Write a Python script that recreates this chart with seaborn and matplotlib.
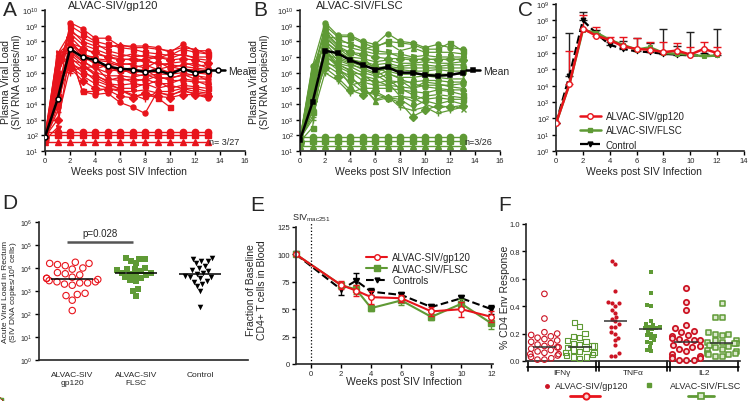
import numpy as np
import pandas as pd
import seaborn as sns
import matplotlib.pyplot as plt
import matplotlib.ticker as mticker
from matplotlib.lines import Line2D
from matplotlib.transforms import Bbox, TransformedBbox

sns.set_style('ticks')
plt.rcParams['font.family'] = ['Liberation Sans', 'DejaVu Sans']
plt.rcParams['mathtext.default'] = 'regular'
plt.rcParams['axes.linewidth'] = 1.2

RED = '#e8141c'
GREEN = '#5f9a35'
FRED = '#cc1424'

# ---------------- data (log10 copies/ml unless noted) ----------------
weeks_ab = list(range(14))
gp120_animals = [
    [1.9, 4.0, 9.2, 8.8, 8.2, 8.2, 7.7, 7.7, 7.7, 7.6, 7.3, 7.8, 7.4, 7.4],
    [1.8, 5.5, 9.0, 8.5, 8.0, 7.8, 7.6, 7.5, 7.3, 7.2, 7.1, 7.5, 7.3, 7.2],
    [2.0, 6.0, 8.8, 8.0, 7.7, 7.6, 7.8, 7.6, 7.6, 7.5, 7.4, 7.6, 7.5, 7.2],
    [1.7, 7.2, 8.5, 7.8, 7.5, 7.2, 7.0, 7.2, 7.0, 6.9, 7.2, 7.1, 7.0, 7.0],
    [1.9, 5.8, 8.3, 7.5, 7.3, 7.0, 6.8, 6.9, 6.8, 7.0, 6.8, 6.9, 6.8, 6.6],
    [1.8, 3.5, 8.0, 7.2, 6.9, 6.8, 6.5, 6.6, 6.9, 6.5, 6.6, 6.7, 6.4, 6.5],
    [2.0, 6.5, 7.8, 7.3, 6.5, 6.4, 6.6, 6.5, 6.3, 6.7, 6.3, 6.5, 6.6, 6.3],
    [1.8, 4.5, 7.6, 7.0, 6.6, 6.3, 6.2, 6.3, 6.5, 6.2, 6.4, 6.2, 6.2, 6.1],
    [1.9, 7.3, 7.4, 6.8, 6.2, 6.5, 6.0, 6.2, 6.0, 6.3, 6.0, 6.3, 6.0, 5.9],
    [1.7, 2.5, 7.3, 6.7, 6.3, 6.0, 6.3, 5.9, 5.8, 5.9, 5.9, 6.0, 5.8, 5.7],
    [2.0, 6.2, 7.2, 6.5, 6.0, 5.8, 5.8, 5.7, 5.9, 5.6, 5.7, 5.8, 5.9, 5.5],
    [1.8, 5.0, 7.0, 6.3, 6.4, 5.6, 5.5, 5.6, 5.5, 5.8, 5.5, 5.5, 5.4, 5.4],
    [1.9, 4.8, 6.8, 6.6, 5.8, 5.5, 5.7, 5.4, 5.6, 5.3, 5.3, 5.6, 5.5, 5.2],
    [1.8, 6.8, 6.7, 6.0, 5.7, 5.3, 5.2, 5.3, 5.2, 5.5, 5.0, 5.2, 5.1, 5.0],
    [1.7, 4.2, 6.6, 6.2, 5.5, 5.2, 5.0, 5.0, 5.3, 5.0, 5.2, 5.0, 5.0, 4.8],
    [2.0, 5.2, 6.4, 5.8, 5.3, 5.0, 4.8, 4.8, 4.9, 4.7, 4.6, 4.8, 4.7, 4.6],
    [1.9, 3.0, 6.3, 5.5, 5.0, 4.9, 4.5, 4.4, 4.7, 4.5, 4.4, 4.6, 4.6, 4.5],
    [1.8, 6.0, 6.0, 6.4, 5.9, 5.4, 4.9, 4.6, 4.3, 4.8, 4.8, 5.0, 4.8, 4.7],
    [1.9, 5.5, 7.2, 4.8, 4.6, 4.7, 4.1, 3.8, 3.4, 4.8, 4.5, 4.9, 4.6, 4.4],
    [1.8, 7.0, 7.3, 4.8, 4.8, 5.0, 4.9, 4.5, 4.6, 4.4, 3.8, np.nan, np.nan, np.nan],
    [2.0, 7.2, 7.9, 7.6, 7.2, 7.0, 6.9, 6.8, 6.7, 6.6, 6.5, 6.4, 6.3, 6.2],
    [1.9, 6.4, 8.6, 8.2, 7.9, 7.4, 7.2, 7.0, 7.1, 7.0, 6.9, 7.2, 6.9, 6.8],
    [1.8, 5.9, 7.9, 7.0, 6.8, 6.7, 6.4, 6.0, 6.1, 6.0, 6.1, 6.2, 6.1, 6.0],
    [1.7, 3.8, 8.1, 7.1, 7.0, 6.2, 6.1, 6.1, 6.2, 5.7, 5.6, 5.9, 5.6, 5.6],
]
gp120_uninfected = [2.2, 2.0, 1.55]
gp120_mean = [1.9, 4.3, 7.5, 7.0, 6.8, 6.4, 6.25, 6.2, 6.05, 6.15, 5.9, 6.25, 6.0, 6.1]

flsc_animals = [
    [1.7, 6.4, 9.2, 8.4, 8.4, 8.0, 7.8, 8.5, 8.0, 7.9, 7.6, 7.8, 7.6, 7.5],
    [1.6, 5.5, 9.0, 8.3, 8.3, 7.9, 7.6, 8.0, 7.9, 7.8, 7.5, 7.5, 7.9, 7.4],
    [1.8, 6.0, 8.8, 8.0, 7.9, 7.5, 7.7, 7.9, 7.4, 7.6, 7.3, 7.3, 7.3, 7.2],
    [1.7, 4.5, 8.6, 7.8, 7.6, 7.4, 7.2, 7.2, 7.2, 7.0, 7.1, 7.0, 7.0, 7.0],
    [1.6, 5.0, 8.4, 7.5, 7.3, 7.2, 7.0, 6.9, 6.9, 6.8, 6.9, 6.8, 6.9, 6.8],
    [1.8, 3.0, 8.2, 7.6, 7.0, 6.9, 6.7, 6.8, 6.6, 6.6, 6.7, 6.6, 6.6, 6.7],
    [1.7, 5.8, 8.0, 7.3, 6.8, 6.7, 6.5, 6.6, 6.4, 6.5, 6.5, 6.4, 6.5, 6.5],
    [1.6, 2.5, 7.9, 7.0, 6.7, 6.4, 6.3, 6.4, 6.3, 6.3, 6.3, 6.3, 6.3, 6.3],
    [1.8, 6.2, 7.7, 6.8, 6.5, 6.3, 6.0, 6.3, 6.2, 6.1, 6.1, 6.2, 6.1, 6.1],
    [1.7, 4.8, 7.5, 6.6, 6.4, 6.0, 5.8, 6.1, 5.9, 5.9, 5.9, 5.9, 5.9, 5.9],
    [1.6, 3.8, 7.3, 6.5, 6.2, 5.8, 5.6, 5.9, 5.7, 5.7, 5.8, 5.7, 5.6, 5.6],
    [1.8, 5.2, 7.1, 6.4, 6.0, 5.9, 5.3, 5.5, 5.4, 5.4, 5.5, 5.5, 5.4, 5.4],
    [1.7, 4.0, 7.0, 6.6, 6.1, 5.5, 5.5, 5.2, 5.1, 5.0, 5.2, 5.2, 5.2, 5.3],
    [1.6, 3.5, 6.8, 6.2, 5.8, 5.0, 5.0, 5.0, 4.9, 4.8, 4.7, 4.9, 4.8, 4.6],
    [1.8, 6.5, 7.6, 6.3, 5.6, 5.2, 4.2, 4.4, 4.5, 4.2, 4.5, 4.6, 4.5, 4.4],
    [1.7, 5.6, 6.5, 6.0, 5.4, 4.8, 4.6, 4.4, 4.3, 3.8, 4.2, 4.0, 4.2, 4.0],
    [1.6, 4.2, 6.3, 5.7, 4.9, 4.6, 4.8, 4.4, 4.1, 3.2, 3.6, 3.9, 3.8, 3.9],
    [1.8, 3.2, 6.0, 5.5, 4.7, 5.0, 4.3, 4.5, 3.8, 3.6, 3.8, 3.4, 3.6, 3.8],
    [1.7, 5.9, 8.0, 7.4, 6.9, 6.6, 6.4, 6.0, 5.6, 5.3, 5.1, 5.0, 4.9, 4.9],
    [1.6, 6.1, 8.5, 7.7, 7.3, 7.0, 6.2, 5.6, 5.0, 4.6, 4.3, 4.4, 4.3, 4.3],
    [1.8, 4.4, 7.2, 6.9, 6.6, 6.2, 5.9, 5.4, 4.5, 4.4, 4.0, 3.7, 3.9, 3.7],
    [1.7, 5.3, 8.3, 8.2, 7.8, 7.6, 7.4, 7.3, 7.0, 6.9, 6.8, 6.9, 6.8, 6.9],
    [1.6, 3.6, 6.6, 6.4, 5.2, 5.4, 5.2, 5.2, 5.5, 5.0, 5.4, 5.3, 5.1, 5.0],
]
flsc_uninfected = [1.9, 1.65, 1.35]
flsc_mean = [1.7, 4.1, 7.4, 7.25, 6.8, 6.5, 6.2, 6.35, 6.0, 6.0, 5.85, 5.8, 5.85, 6.0]

# panel C: group means with upper SD (log10)
weeks_c = list(range(13))
c_gp120 = [1.7, 4.1, 7.5, 7.05, 6.8, 6.4, 6.25, 6.2, 6.05, 6.15, 5.9, 6.25, 6.0]
c_gp120_up = [1.7, 6.1, 8.3, 7.6, 7.0, 7.0, 6.9, 6.7, 6.7, 6.6, 6.35, 6.7, 6.35]
c_flsc = [1.7, 4.1, 7.4, 7.25, 6.8, 6.5, 6.2, 6.35, 6.0, 5.95, 5.9, 5.8, 5.85]
c_ctrl = [1.7, 4.6, 8.0, 7.2, 6.5, 6.25, 6.1, 6.05, 5.95, 5.9, 5.85, 5.85, 5.85]
c_ctrl_up = [1.7, 7.2, 8.5, 7.4, 6.7, 6.75, 6.9, 6.6, 7.5, 6.4, 7.3, 6.0, 7.5]

# panel D: rectal DNA (log10 copies / 10^6 cells)
d_groups = ['ALVAC-SIV\ngp120', 'ALVAC-SIV\nFLSC', 'Control']
d_gp120 = [4.25, 4.2, 4.2, 4.15, 4.1, 4.0, 3.95, 3.8, 3.75, 3.7, 3.6, 3.55, 3.55, 3.5,
           3.45, 3.4, 3.4, 3.35, 3.35, 3.3, 3.25, 2.9, 2.85, 2.8, 2.6, 2.15]
d_flsc = [4.45, 4.4, 4.4, 4.3, 4.2, 4.0, 3.95, 3.95, 3.9, 3.85, 3.8, 3.8, 3.75, 3.7,
          3.7, 3.6, 3.55, 3.5, 3.45, 3.1, 3.0, 2.8]
d_ctrl = [4.45, 4.4, 4.3, 4.3, 4.2, 4.1, 4.0, 3.9, 3.85, 3.8, 3.75, 3.65, 3.6, 3.6,
          3.55, 3.45, 3.4, 3.3, 3.2, 3.0, 2.3]

# panel E: CD4 fraction of baseline
e_weeks = [-1, 2, 3, 4, 6, 8, 10, 12]
e_gp120 = [100, 72, 67, 61, 60, 48, 50, 43]
e_gp120_err = [0, 4, 5, 6, 3, 4, 7, 5]
e_flsc = [100, 72, 68, 51, 58, 43, 55, 37]
e_flsc_err = [0, 3, 4, 3, 4, 3, 4, 5]
e_ctrl = [100, 68, 76, 66, 63, 52, 60, 50]
e_ctrl_err = [0, 5, 7, 3, 3, 3, 3, 4]

# panel F: % CD4 Env response
f_cats = ['IFNγ', 'TNFα', 'IL2']
f_ifn_gp120 = [0.49, 0.31, 0.21, 0.20, 0.19, 0.18, 0.17, 0.16, 0.15, 0.14, 0.13, 0.12, 0.11,
               0.10, 0.10, 0.09, 0.08, 0.07, 0.06, 0.05, 0.05, 0.04, 0.03, 0.02, 0.01, 0.01]
f_ifn_flsc = [0.28, 0.25, 0.20, 0.18, 0.17, 0.15, 0.14, 0.13, 0.12, 0.11, 0.11, 0.10,
              0.09, 0.08, 0.07, 0.06, 0.06, 0.05, 0.04, 0.03, 0.03, 0.02]
f_tnf_gp120 = [0.73, 0.71, 0.51, 0.43, 0.42, 0.42, 0.40, 0.37, 0.35, 0.32, 0.31, 0.29,
               0.27, 0.25, 0.25, 0.21, 0.20, 0.17, 0.15, 0.12, 0.06, 0.04, 0.04]
f_tnf_flsc = [0.65, 0.50, 0.41, 0.40, 0.29, 0.27, 0.26, 0.25, 0.25, 0.24, 0.24, 0.23,
              0.22, 0.20, 0.19, 0.18, 0.17, 0.15, 0.14, 0.13, 0.10, 0.08, 0.07]
f_il2_gp120 = [0.53, 0.43, 0.37, 0.26, 0.24, 0.22, 0.21, 0.19, 0.18, 0.17, 0.16, 0.15, 0.15,
               0.14, 0.12, 0.11, 0.10, 0.09, 0.07, 0.05, 0.04, 0.03, 0.02, 0.02, 0.01, 0.01, 0.005]
f_il2_flsc = [0.42, 0.32, 0.32, 0.21, 0.20, 0.20, 0.19, 0.15, 0.15, 0.14, 0.14, 0.13, 0.13,
              0.12, 0.11, 0.10, 0.09, 0.08, 0.07, 0.06, 0.06, 0.05, 0.05, 0.04, 0.04]

TICK = 5.5
LAB = 7.5

fig = plt.figure(figsize=(7.5, 4.02), dpi=100)


def px_axes(x0, y0, x1, y1):
    return fig.add_axes([x0 / 750, 1 - y1 / 402, (x1 - x0) / 750, (y1 - y0) / 402])


def style(ax):
    sns.despine(ax=ax)
    ax.tick_params(direction='out', length=3, width=1, pad=1.5, labelsize=TICK, color='black')


def log_y(ax, lo, hi):
    ax.set_yscale('log')
    ax.set_ylim(10 ** lo, 10 ** hi)
    ax.set_yticks([10 ** i for i in range(lo, hi + 1)])
    ax.yaxis.set_minor_locator(mticker.NullLocator())


axA = px_axes(45, 11, 245, 152)
axB = px_axes(300, 11, 500, 152)
axC = px_axes(556, 5, 744, 152)
axD = px_axes(39, 223, 248, 361)
axE = px_axes(296, 228, 493, 365)
axF = px_axes(526, 225, 740, 362)

# ---------------- A and B ----------------
mk_cycle = ['o', 's', '^', 'v', 'D', '+', 'o', 's', 'x', 'v', '^', 'o']
for ax, animals, unin, mean, col, title, mean_mk, ntxt, tx in [
        (axA, gp120_animals, gp120_uninfected, gp120_mean, RED, 'ALVAC-SIV/gp120', 'o', 'n= 3/27', 0.34),
        (axB, flsc_animals, flsc_uninfected, flsc_mean, GREEN, 'ALVAC-SIV/FLSC', 's', 'n=3/26', 0.30)]:
    for i, row in enumerate(animals):
        m = mk_cycle[i % len(mk_cycle)]
        sns.lineplot(x=weeks_ab, y=10 ** np.array(row), color=col, lw=0.9, marker=m, ms=3.6,
                     mec=col, mfc=col, mew=1, ax=ax)
    for lvl, m in zip(unin, ['o', 's', '^']):
        sns.lineplot(x=weeks_ab, y=[10 ** lvl] * len(weeks_ab), color=col, lw=1, marker=m, ms=4.5,
                     mec=col, mfc=col, mew=1, ax=ax)
    sns.lineplot(x=weeks_ab, y=10 ** np.array(mean), color='black', lw=1.8, marker=mean_mk, ms=3.5,
                 mfc='white' if mean_mk == 'o' else 'black', mec='black', mew=1.1, ax=ax, zorder=5)
    h = Line2D([], [], color='black', lw=1.8, marker=mean_mk, ms=3.5,
               mfc='white' if mean_mk == 'o' else 'black', mec='black', mew=1.1)
    ax.legend([h], [''], loc='center left', bbox_to_anchor=(0.83, 0.567), frameon=False,
              handlelength=1.3, handletextpad=0, borderpad=0, borderaxespad=0, fontsize=LAB)
    mt = ax.text(0.915, 0.567, 'Mean', transform=ax.transAxes, va='center', fontsize=LAB)
    if ax is axA:
        mt.set_clip_box(TransformedBbox(Bbox([[0, 0], [250 / 750, 1]]), fig.transFigure))
        mt.set_clip_on(True)
    ax.text(13.15, 10 ** 1.62, ntxt, fontsize=6.5, va='center')
    ax.text(tx, 1.035, title, transform=ax.transAxes, ha='center', va='center', fontsize=8)
    log_y(ax, 1, 10)
    ax.set_xlim(0, 16)
    ax.set_xticks(range(0, 17, 2))
    ax.set_xlabel('Weeks post SIV Infection', fontsize=LAB)
    ax.set_ylabel('Plasma Viral Load\n(SIV RNA copies/ml)', fontsize=LAB, linespacing=1.1)
    style(ax)

axA.xaxis.set_label_coords(0.42, -0.105)
axA.yaxis.set_label_coords(-0.115, 0.5)
axB.xaxis.set_label_coords(0.465, -0.105)
axB.yaxis.set_label_coords(-0.15, 0.5)

# ---------------- C ----------------
gp = 10 ** np.array(c_gp120)
ct = 10 ** np.array(c_ctrl)
axC.errorbar(weeks_c, ct, yerr=[np.zeros(len(ct)), 10 ** np.array(c_ctrl_up) - ct], fmt='none',
             ecolor='#222222', elinewidth=1, capsize=3, capthick=1, zorder=2)
axC.errorbar(weeks_c, gp, yerr=[np.zeros(len(gp)), 10 ** np.array(c_gp120_up) - gp], fmt='none',
             ecolor=RED, elinewidth=1, capsize=3, capthick=1, zorder=3)
sns.lineplot(x=weeks_c, y=ct, color='black', lw=1.6, ls='--', marker='v', ms=3.5, mec='black',
             ax=axC, zorder=4)
sns.lineplot(x=weeks_c, y=10 ** np.array(c_flsc), color=GREEN, lw=1.8, marker='s', ms=3.5,
             mec=GREEN, ax=axC, zorder=5)
sns.lineplot(x=weeks_c, y=gp, color=RED, lw=1.8, marker='o', ms=4, mec=RED, mfc='white',
             mew=1, ax=axC, zorder=6)
log_y(axC, 0, 9)
axC.set_xlim(0, 14)
axC.set_xticks(range(0, 15, 2))
axC.set_xlabel('Weeks post SIV Infection', fontsize=LAB)
axC.xaxis.set_label_coords(0.47, -0.1)
hc = [Line2D([], [], color=RED, lw=1.8, marker='o', ms=4, mfc='white', mec=RED),
      Line2D([], [], color=GREEN, lw=1.8, marker='s', ms=3.5, mec=GREEN),
      Line2D([], [], color='black', lw=1.6, ls='--', marker='v', ms=3.5)]
axC.legend(hc, ['ALVAC-SIV/gp120', 'ALVAC-SIV/FLSC', 'Control'], loc='lower left',
           bbox_to_anchor=(0.1, -0.025), frameon=False, fontsize=7, handlelength=2.2,
           handletextpad=0.5, labelspacing=0.45, borderpad=0)
style(axC)

# ---------------- D ----------------
for vals, col, mk, hollow in [(d_gp120, RED, 'o', True), (d_flsc, GREEN, 's', False),
                              (d_ctrl, 'black', 'v', False)]:
    name = d_groups[[d_gp120, d_flsc, d_ctrl].index(vals)]
    n0 = len(axD.collections)
    sns.swarmplot(x=[name] * len(vals), y=10 ** np.array(vals), order=d_groups, color=col,
                  marker=mk, size=4.6 if hollow else 4, log_scale=True, ax=axD)
    if hollow:
        for coll in axD.collections[n0:]:
            coll.set_facecolor('none')
            coll.set_edgecolor(col)
            coll.set_linewidth(0.8)
    med = np.median(vals)
    pos = d_groups.index(name)
    axD.hlines(10 ** med, pos - 0.33, pos + 0.33, color='black', lw=1.1, zorder=5)
axD.hlines(10 ** 5.13, -0.08, 0.95, color='#555555', lw=1.8)
axD.text(0.44, 10 ** 5.5, 'p=0.028', ha='center', va='center', fontsize=7)
log_y(axD, 0, 6)
axD.set_xlim(-0.52, 2.75)
axD.set_xlabel('')
axD.set_ylabel('')
fig.text(11.5 / 750, 1 - 292 / 402, 'Acute Viral Load in Rectum\n(SIV DNA copies/10$^6$ cells)',
         rotation=90, ha='center', va='center', fontsize=6.0, linespacing=0.9)
style(axD)
axD.tick_params(axis='x', length=0, labelsize=6, pad=8)
axD.tick_params(axis='y', labelsize=5)

# ---------------- E ----------------
for vals, err, col, ls, mk, mfc in [(e_ctrl, e_ctrl_err, 'black', '--', 'v', 'black'),
                                    (e_flsc, e_flsc_err, GREEN, '-', 's', GREEN),
                                    (e_gp120, e_gp120_err, RED, '-', 'o', 'white')]:
    axE.errorbar(e_weeks, vals, yerr=err, fmt='none', ecolor=col, elinewidth=1, capsize=2.5,
                 capthick=1, clip_on=False)
    sns.lineplot(x=e_weeks, y=vals, color=col, lw=1.5, ls=ls, marker=mk, ms=4, mec=col, mfc=mfc,
                 mew=1, ax=axE)
for ln in axE.lines:
    ln.set_clip_on(False)
axE.axvline(0, color='black', ls=':', lw=0.9, ymax=1.03, clip_on=False)
axE.text(0, 1.03, 'SIV$_{mac251}$', transform=axE.get_xaxis_transform(), ha='center',
         va='bottom', fontsize=6.5)
axE.set_xlim(-1, 12.1)
axE.set_ylim(0, 125)
axE.set_xticks(range(0, 13, 2))
axE.set_yticks(range(0, 126, 25))
axE.set_xlabel('Weeks post SIV Infection', fontsize=LAB)
axE.set_ylabel('Fraction of Baseline\nCD4+ T cells in Blood', fontsize=LAB, linespacing=1.1)
axE.xaxis.set_label_coords(0.55, -0.09)
axE.yaxis.set_label_coords(-0.147, 0.55)
he = [Line2D([], [], color=RED, lw=1.5, marker='o', ms=4, mfc='white', mec=RED),
      Line2D([], [], color=GREEN, lw=1.5, marker='s', ms=4, mec=GREEN),
      Line2D([], [], color='black', lw=1.5, ls='--', marker='v', ms=3.5)]
axE.legend(he, ['ALVAC-SIV/gp120', 'ALVAC-SIV/FLSC', 'Controls'], loc='upper left',
           bbox_to_anchor=(0.33, 0.85), frameon=False, fontsize=7, handlelength=2.2,
           handletextpad=0.5, labelspacing=0.15, borderpad=0)
style(axE)

# ---------------- F ----------------
f_order = ['IFNγ gp120', 'IFNγ FLSC', 'TNFα gp120', 'TNFα FLSC', 'IL2 gp120', 'IL2 FLSC']
f_sets = [
    (f_ifn_gp120, FRED, 'o', 'none', 0.8, 4.0),
    (f_ifn_flsc, GREEN, 's', 'none', 0.8, 3.8),
    (f_tnf_gp120, FRED, 'o', FRED, 0, 3.0),
    (f_tnf_flsc, GREEN, 's', GREEN, 0, 3.0),
    (f_il2_gp120, FRED, 'o', '#f6d6d6', 1.3, 3.8),
    (f_il2_flsc, GREEN, 's', '#dbe9cd', 1.1, 3.6),
]
for name, (vals, col, mk, face, lw, sz) in zip(f_order, f_sets):
    n0 = len(axF.collections)
    sns.swarmplot(x=[name] * len(vals), y=vals, order=f_order, color=col, marker=mk,
                  size=sz, ax=axF)
    for coll in axF.collections[n0:]:
        coll.set_facecolor(face)
        coll.set_edgecolor(col)
        coll.set_linewidth(lw)
        coll.set_clip_on(False)
    pos = f_order.index(name)
    axF.hlines(np.median(vals), pos - 0.33, pos + 0.33, color='#333333', lw=1.1, zorder=5)
axF.set_ylim(0, 1.0)
axF.set_xlim(-0.52, 5.52)
axF.set_yticks(np.arange(0, 1.01, 0.2))
axF.yaxis.set_major_formatter(mticker.FormatStrFormatter('%.1f'))
axF.set_xticks([])
axF.set_xlabel('')
axF.set_ylabel('% CD4 Env Response', fontsize=LAB)
axF.yaxis.set_label_coords(-0.075, 0.47)
style(axF)
tr = axF.get_xaxis_transform()
for i, cat in enumerate(f_cats):
    left, right = 2 * i - 0.5, 2 * i + 1.5
    axF.plot([left, right], [-0.045, -0.045], color='black', lw=1.2, transform=tr, clip_on=False)
    axF.plot([left + 0.04, left + 0.04], [0, -0.075], color='black', lw=1.2, transform=tr, clip_on=False)
    axF.plot([right - 0.04, right - 0.04], [0, -0.075], color='black', lw=1.2, transform=tr, clip_on=False)
    axF.text(2 * i + 0.5, -0.085, cat, transform=tr, ha='center', va='center', fontsize=6)

# custom legend under F
fig.add_artist(Line2D([547 / 750], [1 - 387 / 402], marker='o', ms=2.5, color=FRED, ls=''))
fig.text(555 / 750, 1 - 387 / 402, 'ALVAC-SIV/gp120', fontsize=6.5, va='center')
fig.add_artist(Line2D([570 / 750, 600 / 750], [1 - 397 / 402] * 2, color=RED, lw=2))
fig.add_artist(Line2D([586 / 750], [1 - 397 / 402], marker='o', ms=4.5, color=RED, mfc='#f6d6d6',
                      mec=RED, mew=1.4, ls=''))
fig.add_artist(Line2D([649 / 750], [1 - 386 / 402], marker='s', ms=2.5, color=GREEN, ls=''))
fig.text(670 / 750, 1 - 387 / 402, 'ALVAC-SIV/FLSC', fontsize=6.5, va='center')
fig.add_artist(Line2D([688 / 750, 714 / 750], [1 - 397 / 402] * 2, color=GREEN, lw=2))
fig.add_artist(Line2D([701 / 750], [1 - 397 / 402], marker='s', ms=4.5, color=GREEN, mfc='#dbe9cd',
                      mec=GREEN, mew=1.2, ls=''))

# panel letters
for x, y, s in [(3, 1, 'A'), (253, 1, 'B'), (518, 1, 'C'), (2, 194, 'D'), (250, 196, 'E'), (498, 196, 'F')]:
    fig.text(x / 750, 1 - y / 402, s, fontsize=15, va='top', ha='left')

fig.savefig('out.png', dpi=100)
